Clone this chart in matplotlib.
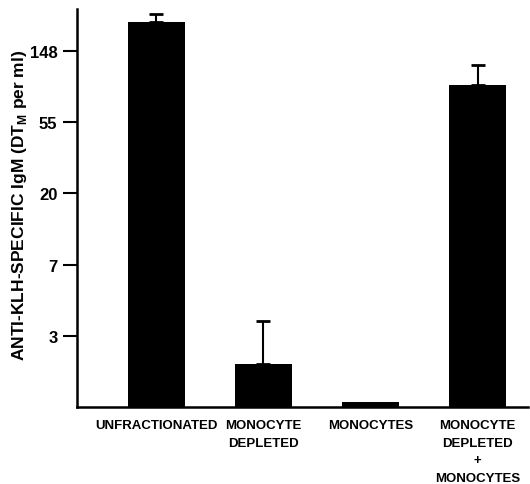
import numpy as np
import matplotlib
matplotlib.use("Agg")
import matplotlib.pyplot as plt

categories = ["UNFRACTIONATED", "MONOCYTE\nDEPLETED", "MONOCYTES", "MONOCYTE\nDEPLETED\n+\nMONOCYTES"]
means = [225.0, 1.84, 1.07, 92.0]
upper = [250.0, 3.36, None, 123.0]
tick_labels = ["3", "7", "20", "55", "148"]
tick_exponents = [1, 2, 3, 4, 5]

plt.rcParams['font.family'] = ['Liberation Sans', 'DejaVu Sans']

fig = plt.figure(figsize=(5.30, 4.85), dpi=100)
ax = fig.add_axes([0.145, 0.159, 0.851, 0.82])

x = np.arange(len(categories))
ax.bar(x, means, width=0.53, color='black', bottom=0)
for xi, m, u in zip(x, means, upper):
    if u is not None:
        ax.errorbar([xi], [m], yerr=[[0], [u - m]], fmt='none', ecolor='black',
                    elinewidth=1.5, capsize=5, capthick=2)

ax.set_yscale('log')
ax.set_ylim(1, np.exp(5.59))
ax.set_xlim(-0.74, 3.47)
ax.set_yticks(np.exp(tick_exponents))
ax.set_yticklabels(tick_labels)
ax.minorticks_off()
ax.tick_params(axis='y', direction='out', length=10, width=1.5, labelsize=12, pad=4)
for lbl in ax.get_yticklabels():
    lbl.set_fontweight('bold')
ax.set_xticks(x)
ax.set_xticklabels(categories, fontsize=9.5, fontweight='bold', linespacing=1.6)
ax.tick_params(axis='x', length=0, pad=9)

for s in ['top', 'right']:
    ax.spines[s].set_visible(False)
ax.spines['left'].set_linewidth(1.8)
ax.spines['bottom'].set_linewidth(1.8)

ax.set_ylabel(r'ANTI-KLH-SPECIFIC IgM (DT$_\mathregular{M}$ per ml)', fontsize=12.5,
              fontweight='bold')
ax.yaxis.set_label_coords(-0.105, 0.51)

fig.savefig('out.png', dpi=100)
